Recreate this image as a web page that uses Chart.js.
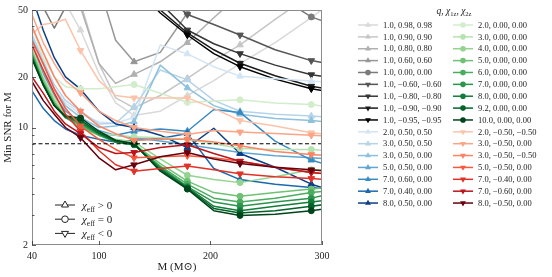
<!DOCTYPE html>
<html><head><meta charset="utf-8">
<script src="https://cdn.jsdelivr.net/npm/chart.js@4.4.1/dist/chart.umd.min.js"></script>
<style>html,body{margin:0;padding:0;background:#fff;}#wrap{width:552px;height:277px;position:relative;}</style>
</head><body><div id="wrap"><canvas id="c" width="552" height="277"></canvas></div>
<script>
// ---------- data ----------
const M = [40, 50, 60, 70, 83.5, 100, 115, 131.5, 155, 179.3, 203, 226.5, 258, 290.4, 305];
const markerIdx = [4, 7, 9, 11, 13];
const threshold = 8;
const yTicks = [2, 10, 20, 50];
const yMinor = [3, 4, 5, 6, 7, 8, 9, 30, 40];
const xTicks = [40, 100, 200, 300];

// q = 1, equal aligned spins
const greyQ = [1, 1, 1, 1, 1, 1, 1, 1, 1];
const greyChi1 = [0.98, 0.90, 0.80, 0.60, 0.00, -0.60, -0.80, -0.90, -0.95];
const greyChi2 = [0.98, 0.90, 0.80, 0.60, 0.00, -0.60, -0.80, -0.90, -0.95];
const greySNR = [
  [150, 120, 90, 55, 38, 21, 14, 11.8, 12.5, 15.5, 19, 24, 32, 45, 53],
  [150, 120, 95, 75, 55, 24, 15, 13.1, 15.5, 19.6, 25, 31, 44, 62, 75],
  [150, 130, 105, 70, 52, 24, 18.3, 20.7, 24.6, 32, 45, 62, 95, 130, 150],
  [150, 150, 130, 110, 90, 70, 33, 24.6, 28, 48, 70, 100, 150, 150, 150],
  [80, 52, 39, 52, 80, 100, 120, 120, 110, 100, 90, 80, 62, 45.5, 42],
  [150, 150, 150, 150, 150, 140, 120, 95, 65, 47, 41, 35.5, 29, 25, 24],
  [150, 150, 150, 150, 150, 140, 120, 85, 55, 38, 31.5, 27.5, 23.5, 20.6, 20],
  [150, 150, 150, 150, 150, 130, 110, 75, 50, 36.5, 29, 24.1, 20.3, 17.6, 17],
  [150, 150, 150, 150, 150, 130, 100, 70, 48, 35.5, 27.5, 23, 19.4, 17.0, 16.4]
];

// positive spins, unequal masses
const blueQ = [2.0, 3.0, 3.0, 5.0, 7.0, 7.0, 8.0];
const blueChi1 = [0.50, 0.50, 0.50, 0.50, 0.60, 0.40, 0.50];
const blueChi2 = [0.50, 0.50, 0.00, 0.00, 0.00, 0.00, 0.00];
const blueSNR = [
  [32, 22, 17, 14, 12, 10.8, 10.6, 11.5, 31, 27.4, 23, 20.2, 19.5, 18.9, 18.6],
  [36, 25, 18, 14.5, 12.5, 10.5, 10.6, 13.3, 22, 19.2, 14.5, 12.5, 12, 11.7, 11.5],
  [34, 24, 17, 13.5, 11.5, 10, 10.2, 10.8, 23.5, 17.2, 13.5, 12, 11.3, 11.0, 10.8],
  [30, 21, 15.5, 12.5, 10.8, 9.6, 9, 8.7, 8.3, 7.9, 7.5, 7.1, 6.8, 6.6, 6.5],
  [28, 19, 14, 11.5, 10, 9.2, 9, 9.5, 9.8, 9.5, 12.8, 12.3, 8.3, 6.4, 6],
  [16.5, 13, 11, 9.8, 9, 8.5, 8.2, 8.4, 8.6, 9.2, 5.7, 4.9, 4.6, 4.4, 4.3],
  [60, 38, 26, 20, 16.9, 12.5, 10.5, 10, 9.0, 7.6, 9.9, 7.0, 5.8, 4.6, 4.3]
];

// non-spinning, unequal masses
const greenQ = [2.0, 3.0, 4.0, 5.0, 6.0, 7.0, 8.0, 9.2, 10.0];
const greenChi1 = [0, 0, 0, 0, 0, 0, 0, 0, 0];
const greenChi2 = [0, 0, 0, 0, 0, 0, 0, 0, 0];
const greenSNR = [
  [40, 26, 20, 17.5, 17, 17, 17.5, 18, 16, 14.1, 14.4, 14.6, 14, 13.7, 13.3],
  [30, 20, 15, 12, 10.2, 9.3, 9.0, 8.8, 8.7, 8.5, 8.0, 7.5, 7.4, 7.4, 7.3],
  [29, 19.5, 14.5, 11.7, 10, 9, 8.5, 8.2, 6.5, 5.2, 4.9, 4.7, 5.1, 5.6, 5.6],
  [28, 19, 14, 11.5, 10.2, 9, 8.3, 8, 6.1, 4.8, 4.1, 3.9, 4.1, 4.3, 4.4],
  [27.5, 18.5, 14, 11.4, 10.4, 9, 8.2, 7.9, 5.9, 4.6, 3.8, 3.6, 3.8, 4.1, 4.2],
  [27, 18, 13.5, 11.5, 10.6, 9.1, 8.2, 7.9, 5.8, 4.45, 3.6, 3.4, 3.6, 3.8, 4.0],
  [26.5, 18, 13.5, 11.5, 10.8, 9.2, 8.2, 7.9, 5.7, 4.4, 3.4, 3.2, 3.4, 3.6, 3.7],
  [26, 18, 13.5, 11.6, 11.1, 9.3, 8.3, 8, 5.6, 4.35, 3.3, 3.1, 3.2, 3.4, 3.5],
  [25.5, 18, 13.5, 11.7, 11.4, 9.5, 8.4, 8, 5.5, 4.3, 3.2, 3.0, 3.05, 3.2, 3.3]
];

// negative spins, unequal masses
const redQ = [2.0, 3.0, 3.0, 5.0, 7.0, 7.0, 8.0];
const redChi1 = [-0.50, -0.50, -0.50, -0.50, -0.40, -0.60, -0.50];
const redChi2 = [-0.50, 0.00, -0.50, 0.00, 0.00, 0.00, 0.00];
const redSNR = [
  [36, 41, 42, 44, 28.7, 19, 15.5, 15, 15, 15, 13, 11.0, 10.2, 9.3, 9.1],
  [47, 32, 24, 19, 16.1, 12.5, 11, 10, 9.5, 9.1, 9.6, 9.4, 9.2, 9.0, 8.9],
  [40, 28, 20, 15.5, 12.5, 10.2, 9.2, 8.4, 8.5, 8.5, 8.2, 7.8, 7.2, 6.9, 6.8],
  [33, 24, 17, 13, 10.2, 8.5, 7.4, 6.6, 6.7, 6.8, 6.6, 6.3, 5.8, 5.4, 5.3],
  [31, 22, 16, 12, 9.5, 7.3, 6.0, 5.5, 5.7, 5.9, 5.6, 5.3, 5.1, 4.97, 4.9],
  [20, 16, 12.5, 10.5, 9.2, 7.6, 7.0, 7.1, 7.6, 7.9, 7.0, 6.3, 5.8, 5.4, 5.3],
  [18.8, 14.5, 12, 10, 8.7, 6.6, 5.6, 6.0, 6.7, 7.1, 6.5, 6.1, 5.8, 5.6, 5.5]
];

const greyColors = ['#d9d9d9', '#c6c6c6', '#b0b0b0', '#979797', '#7a7a7a', '#555555', '#363636', '#1a1a1a', '#000000'];
const blueColors = ['#d3e4f3', '#b5d4e9', '#8dc1dd', '#5fa6d1', '#3a8ac2', '#1b69af', '#0b3f85'];
const greenColors = ['#d1edcb', '#b6e2af', '#95d391', '#6fc274', '#48ad5f', '#2c944c', '#137c39', '#03632a', '#00441b'];
const redColors = ['#fcc3ab', '#fca486', '#fc8464', '#f6583e', '#e03228', '#bc141a', '#67000d'];

// ---------- build ----------
const SERIF = "'Liberation Serif', 'DejaVu Serif', serif";
function fmt(v) { return (v < 0 ? '\u2212' : '') + Math.abs(v).toFixed(2); }
const series = [];
function addFamily(qs, c1, c2, snr, cols) {
  qs.forEach((q, i) => {
    const ce = q * c1[i] + c2[i];
    const marker = ce > 0 ? 'up' : (ce < 0 ? 'down' : 'circle');
    series.push({ label: q.toFixed(1) + ', ' + fmt(c1[i]) + ', ' + fmt(c2[i]), values: snr[i], color: cols[i], marker });
  });
}
addFamily(greyQ, greyChi1, greyChi2, greySNR, greyColors);
addFamily(blueQ, blueChi1, blueChi2, blueSNR, blueColors);
addFamily(greenQ, greenChi1, greenChi2, greenSNR, greenColors);
addFamily(redQ, redChi1, redChi2, redSNR, redColors);

const N = series.length;
const datasets = series.map((s, i) => ({
  label: s.label,
  data: M.map((m, k) => ({ x: m, y: s.values[k] })),
  borderColor: s.color,
  backgroundColor: s.color,
  borderWidth: 1.5,
  pointStyle: s.marker === 'circle' ? 'circle' : 'triangle',
  rotation: s.marker === 'down' ? 180 : 0,
  pointRadius: M.map((m, k) => markerIdx.includes(k) ? (s.marker === 'circle' ? 3 : 3.8) : 0),
  pointBorderWidth: 1,
  tension: 0,
  order: N - i + 1
}));
datasets.push({
  label: '_threshold',
  data: [{ x: 40, y: threshold }, { x: 300, y: threshold }],
  borderColor: '#000', borderWidth: 1.1, borderDash: [4, 2.5], pointRadius: 0, order: 0
});

function markerPath(ctx, kind, x, y, r) {
  ctx.beginPath();
  if (kind === 'circle') { ctx.arc(x, y, r, 0, Math.PI * 2); }
  else {
    const s = kind === 'up' ? -1 : 1;
    ctx.moveTo(x, y + s * r);
    ctx.lineTo(x + r * 0.866, y - s * r * 0.5);
    ctx.lineTo(x - r * 0.866, y - s * r * 0.5);
    ctx.closePath();
  }
}

function richText(ctx, parts, x, y, align) {
  let w = 0;
  parts.forEach(p => { ctx.font = (p[2] ? 'italic ' : '') + p[1] + 'px ' + SERIF; w += ctx.measureText(p[0]).width; });
  let cx = align === 'center' ? x - w / 2 : x;
  ctx.textAlign = 'left';
  ctx.textBaseline = 'alphabetic';
  parts.forEach(p => {
    ctx.font = (p[2] ? 'italic ' : '') + p[1] + 'px ' + SERIF;
    ctx.fillText(p[0], cx, y + (p[3] || 0));
    cx += ctx.measureText(p[0]).width;
  });
}

const decor = {
  id: 'decor',
  afterDatasetsDraw(chart) {
    const ctx = chart.ctx, a = chart.chartArea;
    const xs = chart.scales.x, ys = chart.scales.y;
    ctx.save();
    ctx.strokeStyle = '#8c8c8c'; ctx.lineWidth = 1;
    ctx.strokeRect(Math.round(a.left) + 0.5, Math.round(a.top) + 0.5, Math.round(a.right - a.left) - 1, Math.round(a.bottom - a.top) - 1);
    ctx.strokeStyle = '#333'; ctx.lineWidth = 0.8;
    yTicks.forEach(v => { const y = Math.round(ys.getPixelForValue(v)) + 0.5; ctx.beginPath(); ctx.moveTo(a.left, y); ctx.lineTo(a.left + 4, y); ctx.stroke(); });
    yMinor.forEach(v => { const y = Math.round(ys.getPixelForValue(v)) + 0.5; ctx.beginPath(); ctx.moveTo(a.left, y); ctx.lineTo(a.left + 2.5, y); ctx.stroke(); });
    xTicks.forEach(v => { const x = Math.round(xs.getPixelForValue(v)) + 0.5; ctx.beginPath(); ctx.moveTo(x, a.bottom); ctx.lineTo(x, a.bottom - 4); ctx.stroke(); });

    const kinds = [['up', '>'], ['circle', '='], ['down', '<']];
    kinds.forEach((k, i) => {
      const y = 205 + i * 14.2;
      ctx.strokeStyle = '#222'; ctx.lineWidth = 1;
      ctx.beginPath(); ctx.moveTo(55, y); ctx.lineTo(75, y); ctx.stroke();
      markerPath(ctx, k[0], 65, y, k[0] === 'circle' ? 3.3 : 4);
      ctx.fillStyle = '#fff'; ctx.fill(); ctx.stroke();
      ctx.fillStyle = '#222';
      richText(ctx, [['\u03c7', 11, true, 0], ['eff', 7.5, false, 2.5], [' ' + k[1] + ' 0', 11, false, 0]], 82, y + 4, 'left');
    });

    ctx.fillStyle = '#222';
    richText(ctx, [['q', 9.5, true, 0], [', ', 9.5, false, 0], ['\u03c7', 9.5, true, 0], ['1z', 6.5, false, 2], [', ', 9.5, false, 0], ['\u03c7', 9.5, true, 0], ['2z', 6.5, false, 2]], 454, 14, 'center');
    series.forEach((s, i) => {
      const col = i < 16 ? 0 : 1;
      const row = i % 16;
      const y = 25 + row * 11.87;
      const x0 = col === 0 ? 358 : 453;
      ctx.strokeStyle = s.color; ctx.fillStyle = s.color; ctx.lineWidth = 1.5;
      ctx.beginPath(); ctx.moveTo(x0, y); ctx.lineTo(x0 + 20, y); ctx.stroke();
      markerPath(ctx, s.marker, x0 + 10, y, s.marker === 'circle' ? 2.8 : 3.4);
      ctx.fill();
      ctx.fillStyle = '#222';
      ctx.font = '8.5px ' + SERIF; ctx.textAlign = 'left'; ctx.textBaseline = 'middle';
      ctx.fillText(s.label, x0 + 25, y + 0.5);
    });
    ctx.restore();
  }
};

new Chart(document.getElementById('c'), {
  type: 'line',
  data: { datasets },
  options: {
    responsive: false, animation: false, devicePixelRatio: 1,
    layout: { padding: { top: 7, right: 230, left: 0, bottom: 0 } },
    plugins: { legend: { display: false }, tooltip: { enabled: false } },
    elements: { line: { borderJoinStyle: 'round' } },
    scales: {
      x: {
        type: 'linear', min: 40, max: 300,
        afterBuildTicks: s => { s.ticks = xTicks.map(v => ({ value: v })); },
        afterFit: s => { s.height = 32; },
        grid: { display: false, drawTicks: false },
        border: { display: false },
        ticks: { padding: 5, color: '#222', font: { family: SERIF, size: 10 }, callback: v => String(v), maxRotation: 0 },
        title: { display: true, text: 'M (M\u2299)', color: '#222', font: { family: SERIF, size: 11 }, padding: { top: 0, bottom: 3 } }
      },
      y: {
        type: 'logarithmic', min: 2, max: 50,
        afterBuildTicks: s => { s.ticks = yTicks.map(v => ({ value: v })); },
        afterFit: s => { s.width = 32; },
        grid: { display: false, drawTicks: false },
        border: { display: false },
        ticks: { padding: 4, color: '#222', font: { family: SERIF, size: 10 }, callback: v => String(v) },
        title: { display: true, text: 'Min SNR for M', color: '#222', font: { family: SERIF, size: 11 }, padding: { top: 2, bottom: 0 } }
      }
    }
  },
  plugins: [decor]
});
</script></body></html>
